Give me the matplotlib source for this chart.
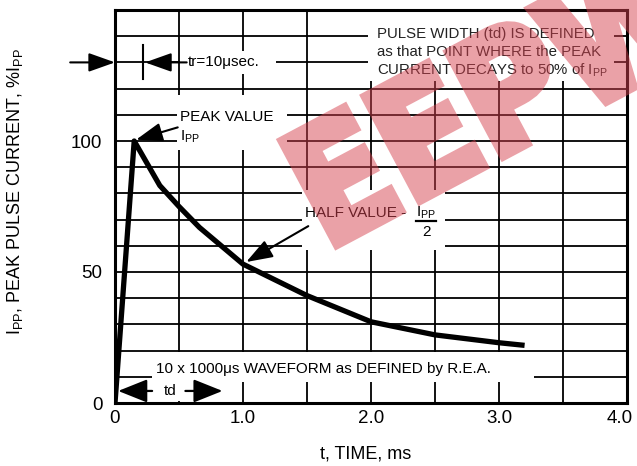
import numpy as np
import matplotlib
matplotlib.use('Agg')
import matplotlib.pyplot as plt
from matplotlib.patches import Rectangle, PathPatch
from matplotlib.textpath import TextPath
from matplotlib.font_manager import FontProperties
from matplotlib.transforms import Affine2D, ScaledTranslation

plt.rcParams['font.family'] = ['Liberation Sans', 'DejaVu Sans']
plt.rcParams['mathtext.fontset'] = 'custom'
plt.rcParams['mathtext.rm'] = 'Liberation Sans'
plt.rcParams['mathtext.it'] = 'Liberation Sans:italic'
plt.rcParams['mathtext.bf'] = 'Liberation Sans:bold'

# ---- data ----
time_ms = [0.0, 0.15, 0.35, 0.5, 0.66, 1.0, 1.5, 2.0, 2.5, 3.0, 3.2]
current_pct = [0, 100, 83, 75, 67, 53, 41, 31, 26, 23, 22]
x_ticks = [0, 1, 2, 3, 4]
x_ticklabels = ['0', '1.0', '2.0', '3.0', '4.0']
y_ticks = [0, 50, 100]
y_ticklabels = ['0', '50', '100']

IPP = r'I$_\mathrm{PP}$'
W, H, DPI = 637, 466, 100

fig = plt.figure(figsize=(W / DPI, H / DPI), dpi=DPI)
ax = fig.add_axes([115/637, 1-403/466, 512/637, 393/466])
ax.set_xlim(0, 4)
ax.set_ylim(0, 150)

ax.set_xticks(x_ticks)
ax.set_xticklabels(x_ticklabels)
ax.set_yticks(y_ticks)
ax.set_yticklabels(y_ticklabels)
ax.set_xticks(np.arange(0, 4.01, 0.5), minor=True)
ax.set_yticks(np.arange(0, 150.1, 10), minor=True)
ax.tick_params(which='both', length=0)
ax.tick_params(axis='x', labelsize=13.5, pad=5)
ax.tick_params(axis='y', labelsize=13.5, pad=9)
last = ax.get_xticklabels()[-1]
last.set_transform(last.get_transform() + ScaledTranslation(-5/72, 0, fig.dpi_scale_trans))
ax.set_axisbelow(True)
ax.grid(which='both', color='black', lw=1.3)
for s in ax.spines.values():
    s.set_linewidth(2.2)
    s.set_color('black')

ax.set_xlabel('t, TIME, ms', fontsize=13)
ax.xaxis.set_label_coords(0.49, -0.108)
ax.set_ylabel(IPP + ', PEAK PULSE CURRENT, %' + IPP, fontsize=13)
ax.yaxis.set_label_coords(-0.176, 0.537)

# waveform
ax.plot(time_ms, current_pct, color='black', lw=3.8, solid_joinstyle='round',
        solid_capstyle='butt', zorder=3)

# white label boxes
def wbox(x0, y0, w, h):
    ax.add_patch(Rectangle((x0, y0), w, h, fc='white', ec='none', zorder=2))

wbox(0.51, 125.5, 0.75, 9.0)      # tr
wbox(0.485, 96.5, 0.86, 21.0)     # peak value
wbox(1.98, 123.0, 1.92, 26.5)     # pulse width definition
wbox(1.46, 58.4, 1.12, 23.0)      # half value
wbox(0.29, 8.2, 2.98, 11.2)       # waveform note
wbox(0.015, 0.8, 0.85, 7.4)       # td

ap = dict(arrowstyle='-|>,head_length=0.9,head_width=0.32', color='black',
          lw=1.5, shrinkA=0, shrinkB=0, mutation_scale=18)
ap_big = dict(arrowstyle='-|>,head_length=1.0,head_width=0.4', color='black',
              lw=1.6, shrinkA=0, shrinkB=0, mutation_scale=18)

fs = 11
# rise time marker
ax.annotate('', xy=(0, 130), xytext=(-0.35, 130), arrowprops=ap,
            annotation_clip=False, zorder=4)
ax.plot([0.22, 0.22], [123.5, 136.5], color='black', lw=1.5, zorder=4)
ax.annotate('', xy=(0.235, 130), xytext=(0.56, 130), arrowprops=ap, zorder=4)
ax.text(0.565, 130, 'tr=10\u03bcsec.', fontsize=fs, ha='left', va='center', zorder=4)

# peak value
ax.text(0.51, 107.6, 'PEAK VALUE', fontsize=fs, ha='left', va='baseline', zorder=4)
ax.text(0.51, 100.0, IPP, fontsize=fs, ha='left', va='baseline', zorder=4)
ax.annotate('', xy=(0.165, 100.5), xytext=(0.49, 105.2), arrowprops=ap, zorder=4)

# pulse width definition
lines = ['PULSE WIDTH (td) IS DEFINED',
         'as that POINT WHERE the PEAK',
         'CURRENT DECAYS to 50% of ' + IPP]
for k, ln in enumerate(lines):
    ax.text(2.05, 139.3 - 6.9 * k, ln, fontsize=10.8, ha='left', va='baseline',
            color='#222222', zorder=4)

# half value
ax.text(1.485, 71.0, 'HALF VALUE - ', fontsize=fs, ha='left', va='baseline', zorder=4)
ax.text(2.35, 71.0, IPP, fontsize=fs, ha='left', va='baseline', zorder=4)
ax.plot([2.35, 2.51], [69.3, 69.3], color='black', lw=1.6, zorder=4)
ax.text(2.43, 65.3, '2', fontsize=fs, ha='center', va='center', zorder=4)
ax.annotate('', xy=(1.025, 53.8), xytext=(1.51, 67.5), arrowprops=ap, zorder=4)

# waveform note and td
ax.text(0.32, 11.5, '10 x 1000\u03bcs WAVEFORM as DEFINED by R.E.A.', fontsize=fs,
        ha='left', va='baseline', zorder=4)
ax.annotate('', xy=(0.025, 4.6), xytext=(0.29, 4.6), arrowprops=ap_big, zorder=4)
ax.text(0.43, 4.6, 'td', fontsize=fs, ha='center', va='center', zorder=4)
ax.annotate('', xy=(0.84, 4.6), xytext=(0.55, 4.6), arrowprops=ap_big, zorder=4)

# watermark overlay: heavy logo shape rendered to a mask, then blended on top
wm_prop = FontProperties(family='DejaVu Sans', weight='bold')
wm_path = TextPath((0, 0), 'EEPW', size=1, prop=wm_prop)
wm_tr = Affine2D().scale(138, 160).rotate_deg(28).translate(326, H - 250)
wfig = plt.figure(figsize=(W / DPI, H / DPI), dpi=DPI)
wfig.patch.set_alpha(0)
wfig.add_artist(PathPatch(wm_path, transform=wm_tr, fc='black', ec='black',
                          lw=7, joinstyle='miter'))
wfig.canvas.draw()
mask = np.asarray(wfig.canvas.buffer_rgba())[..., 3].astype(float) / 255.0
plt.close(wfig)
rgba = np.zeros((mask.shape[0], mask.shape[1], 4))
rgba[..., 0], rgba[..., 1], rgba[..., 2] = 0.84, 0.26, 0.31
rgba[..., 3] = mask * 0.5
fig.figimage(rgba, 0, 0, origin='upper', zorder=10)

fig.savefig('out.png', dpi=DPI)
